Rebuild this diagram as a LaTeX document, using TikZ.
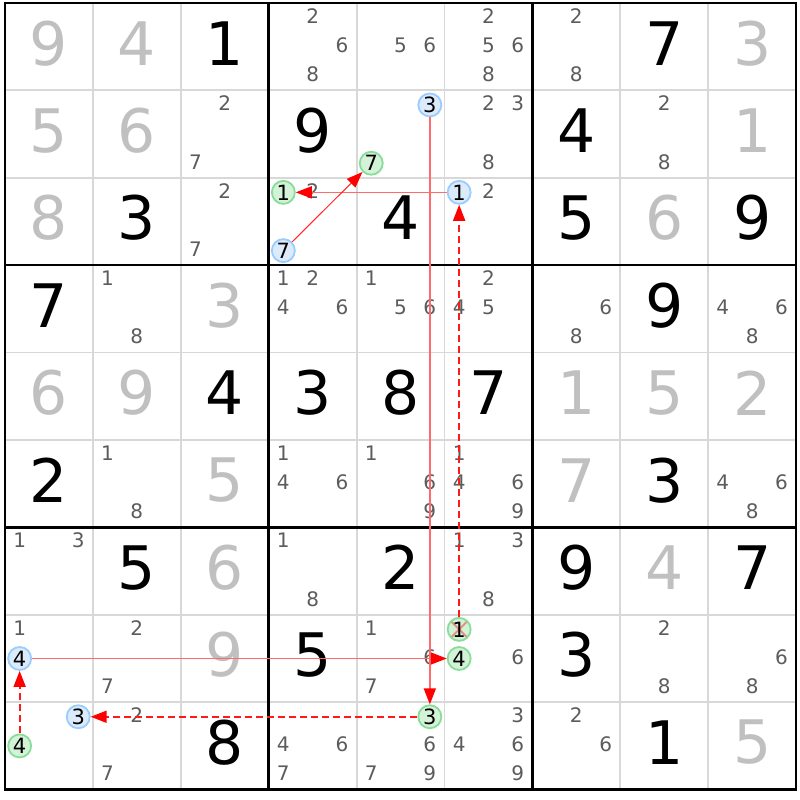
\documentclass[tikz,border=0pt]{standalone}
\usepackage{fontspec}
\setmainfont{DejaVu Sans}
\usetikzlibrary{arrows.meta}

\definecolor{solvedgray}{HTML}{C0C0C0}
\definecolor{candgray}{HTML}{5C5C5C}
\definecolor{gridgray}{HTML}{D8D8D8}
\definecolor{bluering}{HTML}{99CCFF}
\definecolor{bluefill}{HTML}{DCEBFC}
\definecolor{greenring}{HTML}{88DD99}
\definecolor{greenfill}{HTML}{D4F2D8}

% plain candidates of one cell: row, column, list
\newcommand{\cellcands}[3]{%
  \foreach \k in {#3}{%
    \pgfmathsetmacro\candx{#2-1+(mod(\k-1,3)+0.5)/3}%
    \pgfmathsetmacro\candy{#1-1+(floor((\k-1)/3)+0.5)/3}%
    \node[cand] (c#1#2\k) at (\candx,\candy) {\k};}}

% marked candidate: style, row, column, digit
\newcommand{\markcand}[4]{%
  \pgfmathsetmacro\candx{#3-1+(mod(#4-1,3)+0.5)/3}%
  \pgfmathsetmacro\candy{#2-1+(floor((#4-1)/3)+0.5)/3}%
  \node[#1] (p#2#3#4) at (\candx,\candy) {#4};}

\begin{document}
\begin{tikzpicture}[x=87.9pt, y=-87.4pt,
  given/.style={font=\fontsize{60}{60}\selectfont, text=black, yshift=3.5pt},
  solved/.style={given, text=solvedgray},
  cand/.style={font=\fontsize{20}{20}\selectfont, text=candgray, inner sep=0pt, yshift=1.5pt},
  ring/.style={circle, minimum size=23pt, inner sep=0pt, line width=1.8pt, font=\fontsize{21}{21}\selectfont},
  bluecand/.style={ring, draw=bluering, fill=bluefill},
  greencand/.style={ring, draw=greenring, fill=greenfill},
  crossed/.style={greencand, path picture={
      \draw[red, opacity=0.4, line width=2pt]
        ([shift={(-8pt,-8pt)}]path picture bounding box.center) -- ([shift={(8pt,8pt)}]path picture bounding box.center)
        ([shift={(-8pt,8pt)}]path picture bounding box.center) -- ([shift={(8pt,-8pt)}]path picture bounding box.center);}},
  strong/.style={draw=red!58, line width=1.6pt, -{Triangle[length=16pt, width=12pt, color=red]}},
  thinlink/.style={draw=red!85, line width=1pt, -{Triangle[length=16pt, width=12pt, color=red]}},
  weak/.style={draw=red!90, line width=1.7pt, dash pattern=on 7pt off 4pt, -{Triangle[length=16pt, width=12pt, color=red]}}]

\useasboundingbox[fill=white] (-0.0569,-0.0343) rectangle (9.0444,9.1190);

% Grid
\foreach \i in {1,2,4,5,7,8}{
  \draw[gridgray, line width=1.8pt] (\i,0) -- (\i,9);
  \draw[gridgray, line width=1.8pt] (0,\i) -- (9,\i);}
\foreach \i in {3,6}{
  \draw[line width=2.6pt] (\i,0) -- (\i,9);
  \draw[line width=2.6pt] (0,\i) -- (9,\i);}
\draw[line width=2.6pt] (0,0) rectangle (9,9);

% Given digits
\foreach \r/\c/\d in {1/3/1, 1/8/7, 2/4/9, 2/7/4, 3/2/3, 3/5/4, 3/7/5, 3/9/9,
  4/1/7, 4/8/9, 5/3/4, 5/4/3, 5/5/8, 5/6/7, 6/1/2, 6/8/3, 7/2/5, 7/5/2,
  7/7/9, 7/9/7, 8/4/5, 8/7/3, 9/3/8, 9/8/1}
  \node[given] (g\r\c) at (\c-0.5,\r-0.5) {\d};

% Solved digits
\foreach \r/\c/\d in {1/1/9, 1/2/4, 1/9/3, 2/1/5, 2/2/6, 2/9/1, 3/1/8, 3/8/6,
  4/3/3, 5/1/6, 5/2/9, 5/7/1, 5/8/5, 5/9/2, 6/3/5, 6/7/7, 7/3/6, 7/8/4,
  8/3/9, 9/9/5}
  \node[solved] (s\r\c) at (\c-0.5,\r-0.5) {\d};

% Candidates
\cellcands{1}{4}{2,6,8}   \cellcands{1}{5}{5,6}   \cellcands{1}{6}{2,5,6,8}
\cellcands{1}{7}{2,8}     \cellcands{2}{3}{2,7}   \cellcands{2}{6}{2,3,8}
\cellcands{2}{8}{2,8}     \cellcands{3}{3}{2,7}   \cellcands{3}{4}{2}
\cellcands{3}{6}{2}       \cellcands{4}{2}{1,8}   \cellcands{4}{4}{1,2,4,6}
\cellcands{4}{5}{1,5,6}   \cellcands{4}{6}{2,4,5} \cellcands{4}{7}{6,8}
\cellcands{4}{9}{4,6,8}   \cellcands{6}{2}{1,8}   \cellcands{6}{4}{1,4,6}
\cellcands{6}{5}{1,6,9}   \cellcands{6}{6}{1,4,6,9} \cellcands{6}{9}{4,6,8}
\cellcands{7}{1}{1,3}     \cellcands{7}{4}{1,8}   \cellcands{7}{6}{1,3,8}
\cellcands{8}{1}{1}       \cellcands{8}{2}{2,7}   \cellcands{8}{5}{1,6,7}
\cellcands{8}{6}{6}       \cellcands{8}{8}{2,8}   \cellcands{8}{9}{6,8}
\cellcands{9}{2}{2,7}     \cellcands{9}{4}{4,6,7} \cellcands{9}{5}{6,7,9}
\cellcands{9}{6}{3,4,6,9} \cellcands{9}{7}{2,6}

% Marked candidates
\markcand{bluecand}{2}{5}{3}
\markcand{greencand}{2}{5}{7}
\markcand{greencand}{3}{4}{1}
\markcand{bluecand}{3}{4}{7}
\markcand{bluecand}{3}{6}{1}
\markcand{bluecand}{8}{1}{4}
\markcand{crossed}{8}{6}{1}
\markcand{greencand}{8}{6}{4}
\markcand{bluecand}{9}{1}{3}
\markcand{greencand}{9}{1}{4}
\markcand{greencand}{9}{5}{3}

% Links
\draw[strong] (p253) -- (p953);
\draw[strong] (p361) -- (p341);
\draw[strong] (p814) -- (p864);
\draw[thinlink] (p347) -- (p257);
\draw[weak] (p861) -- (p361);
\draw[weak] (p953) -- (p913);
\draw[weak] (p914) -- (p814);

\end{tikzpicture}
\end{document}
